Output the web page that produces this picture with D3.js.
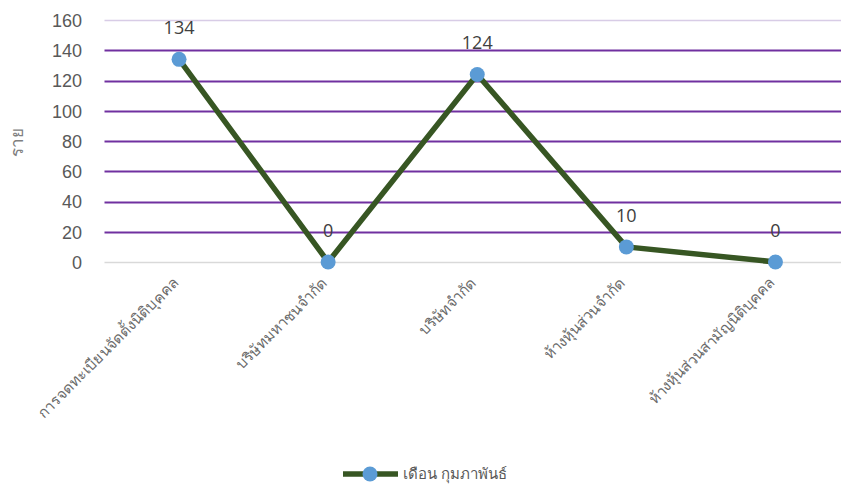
<!DOCTYPE html>
<html><head><meta charset="utf-8">
<script src="https://cdn.jsdelivr.net/npm/d3@7"></script>
<style>body{margin:0;background:#fff;}svg{display:block;font-family:"Open Sans","Noto Sans",sans-serif;}</style>
</head><body>
<script>
const categories = ["การจดทะเบียนจัดตั้งนิติบุคคล","บริษัทมหาชนจำกัด","บริษัทจำกัด","ห้างหุ้นส่วนจำกัด","ห้างหุ้นส่วนสามัญนิติบุคคล"];
const values = [134, 0, 124, 10, 0];
const yTicks = [0,20,40,60,80,100,120,140,160];
const seriesName = "เดือน กุมภาพันธ์";
const yTitle = "ราย";

const W = 841, H = 486;
const svg = d3.select("body").append("svg").attr("width", W).attr("height", H);
const x = d3.scaleBand().domain(categories).range([104.5, 850]);
const y = d3.scaleLinear().domain([0,160]).range([262, 20]);
const cx = d => x(d) + x.bandwidth()/2;

// gridlines
svg.append("g").selectAll("line").data(yTicks).join("line")
  .attr("x1", 104.5).attr("x2", 850)
  .attr("y1", d => Math.round(y(d)) + 0.5).attr("y2", d => Math.round(y(d)) + 0.5)
  .attr("stroke", d => d === 0 ? "#d9d9d9" : (d === 160 ? "#d8cce6" : "#7030a0"))
  .attr("stroke-width", d => (d === 0 || d === 160) ? 1.5 : 2);

// y tick labels
const yAxis = d3.axisLeft(y).tickValues(yTicks).tickSize(0).tickPadding(0);
const ya = svg.append("g").attr("transform", "translate(82,0)").call(yAxis);
ya.select(".domain").remove();
ya.selectAll("text").attr("fill", "#595959").style("font-size", "18px").attr("dy", "0.35em");

// y title
svg.append("text").attr("transform", "translate(23,142) rotate(-90)")
  .attr("text-anchor", "middle").attr("fill", "#7f7f7f").style("font-size", "17px").text(yTitle);

// x labels
svg.append("g").selectAll("text").data(categories).join("text")
  .attr("transform", d => `translate(${cx(d)},284) rotate(-45)`)
  .attr("text-anchor", "end").attr("fill", "#6a6a6a").style("font-size", "15px").text(d => d);

// line
const data = categories.map((c,i) => ({c, v: values[i]}));
svg.append("path").datum(data)
  .attr("d", d3.line().x(d => cx(d.c)).y(d => y(d.v)))
  .attr("fill", "none").attr("stroke", "#375623").attr("stroke-width", 5.5).attr("stroke-linejoin", "round");

svg.append("g").selectAll("circle").data(data).join("circle")
  .attr("cx", d => cx(d.c)).attr("cy", d => y(d.v)).attr("r", 7.5).attr("fill", "#5b9bd5");

// data labels
svg.append("g").selectAll("text").data(data).join("text")
  .attr("x", d => cx(d.c)).attr("y", d => y(d.v) - 25)
  .attr("text-anchor", "middle").attr("fill", "#404040").style("font-size", "18px").text(d => d.v);

// legend
const lg = svg.append("g");
lg.append("line").attr("x1", 343).attr("x2", 398).attr("y1", 474).attr("y2", 474)
  .attr("stroke", "#375623").attr("stroke-width", 5.5);
lg.append("circle").attr("cx", 370).attr("cy", 474).attr("r", 7.5).attr("fill", "#5b9bd5");
lg.append("text").attr("x", 403).attr("y", 474).attr("dy", "0.35em").attr("fill", "#595959")
  .style("font-size", "15px").text(seriesName);
</script>
</body></html>
